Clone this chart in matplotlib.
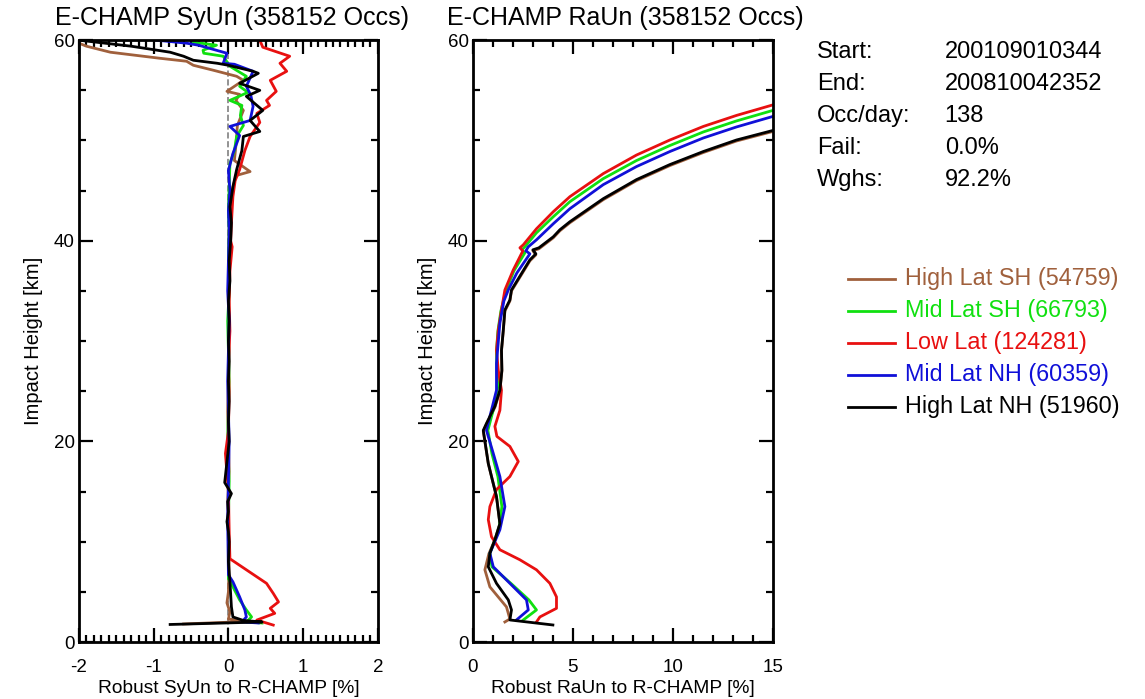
import matplotlib
matplotlib.use("Agg")
import matplotlib.pyplot as plt
from matplotlib.lines import Line2D
from matplotlib.ticker import MultipleLocator

plt.rcParams['font.family'] = ['Liberation Sans', 'DejaVu Sans']
plt.rcParams['axes.unicode_minus'] = False

# series names, colours and counts
names = ["High Lat SH", "Mid Lat SH", "Low Lat", "Mid Lat NH", "High Lat NH"]
counts = [54759, 66793, 124281, 60359, 51960]
colors = ["#a0603c", "#10e010", "#e81010", "#1010d8", "#000000"]

# --- SyUn (left panel): values [%] and impact heights [km]
syun_hsh = [-2.0, -1.9, -1.58, -0.92, -0.56, -0.47, -0.2, 0.11, 0.2, -0.02, 0.15, 0.1, 0.2, 0.12,
            0.1, 0.08, 0.29, 0.1, 0.05, 0.02, 0.01, 0.0, 0.01, 0.0, 0.01, 0.0, -0.01, 0.0, 0.01,
            -0.01, 0.0, 0.01, 0.0, -0.02, 0.02, 0.0, 0.25, -0.6]
syun_hsh_z = [59.7, 59.4, 58.8, 58.2, 57.9, 57.5, 57.0, 56.4, 56.0, 54.9, 54.6, 54.0, 53.0, 51.5,
              49.5, 48.0, 46.9, 46.5, 45.0, 43.0, 41.0, 38.0, 35.0, 32.0, 29.0, 26.0, 23.0, 20.0, 17.0,
              14.0, 11.0, 8.0, 5.0, 3.9, 3.0, 2.3, 2.05, 1.8]

syun_msh = [-0.47, -0.16, -0.34, -0.33, -0.07, 0.02, 0.24, 0.15, 0.26, 0.02, 0.18, 0.16, 0.2, 0.11,
            0.08, 0.02, 0.01, 0.0, 0.01, 0.0, 0.01, -0.01, 0.0, 0.01, 0.0, -0.01, 0.01, 0.0, 0.0,
            0.06, 0.15, 0.24, 0.31, 0.24, 0.45]
syun_msh_z = [59.8, 59.5, 59.0, 58.7, 58.4, 57.4, 56.4, 55.4, 54.8, 54.0, 53.5, 52.5, 51.5, 50.4,
              49.0, 47.7, 45.4, 43.0, 41.0, 38.0, 35.0, 32.0, 29.0, 26.0, 23.0, 20.0, 16.0, 12.0, 6.35,
              5.5, 4.2, 3.2, 2.5, 2.0, 1.9]

syun_low = [0.42, 0.46, 0.82, 0.69, 0.78, 0.56, 0.64, 0.51, 0.55, 0.38, 0.42, 0.29, 0.22, 0.15,
            0.09, 0.06, 0.04, 0.03, 0.05, 0.02, 0.01, 0.02, 0.0, 0.01, 0.0, -0.04, -0.03, 0.0, 0.01,
            0.02, 0.24, 0.51, 0.6, 0.67, 0.56, 0.62, 0.38, 0.6]
syun_low_z = [60.0, 59.3, 58.4, 57.7, 56.9, 56.0, 54.9, 54.0, 53.5, 52.7, 51.8, 50.4, 49.0, 47.1,
              46.0, 44.4, 41.8, 40.0, 39.4, 37.0, 34.0, 31.0, 28.0, 25.0, 21.0, 18.8, 17.8, 15.0, 11.0,
              8.3, 7.2, 5.85, 4.85, 4.0, 3.36, 2.86, 2.19, 1.69]

syun_mnh = [-0.96, -0.56, -0.4, -0.02, -0.07, 0.08, 0.33, 0.24, 0.3, 0.33, 0.29, 0.02, 0.15, 0.06,
            0.0, 0.02, 0.0, 0.01, 0.0, -0.01, 0.01, 0.0, -0.01, 0.0, 0.01, 0.0, -0.01, 0.0,
            0.06, 0.15, 0.22, 0.24, 0.18, 0.4]
syun_mnh_z = [60.0, 59.7, 59.5, 58.7, 57.7, 57.6, 56.9, 55.4, 54.5, 53.4, 52.0, 51.4, 50.5, 48.7,
              47.0, 45.0, 43.0, 41.0, 38.0, 35.0, 32.0, 29.0, 26.0, 23.0, 20.0, 16.0, 12.0, 6.7,
              6.0, 4.5, 3.2, 2.5, 2.0, 1.9]

syun_hnh = [-2.0, -1.3, -0.78, -0.6, -0.47, -0.15, 0.0, 0.33, 0.4, 0.15, 0.42, 0.24, 0.46, 0.29,
            0.42, 0.2, 0.18, 0.11, 0.06, 0.02, 0.04, 0.03, 0.01, 0.02, 0.0, 0.01, 0.0, 0.01, 0.0,
            0.01, 0.0, 0.01, -0.05, 0.04, -0.01, 0.0, -0.02, 0.0, 0.01, 0.0, 0.02, 0.04, 0.06, 0.2,
            0.45, -0.78]
syun_hnh_z = [60.0, 59.4, 58.8, 58.4, 58.0, 57.7, 57.5, 56.9, 56.7, 55.7, 55.0, 54.4, 53.0, 52.0,
              50.9, 50.4, 49.0, 47.1, 45.4, 43.4, 41.8, 40.0, 38.0, 36.0, 34.0, 32.0, 30.0, 28.0, 26.0,
              24.0, 22.0, 20.0, 15.9, 14.8, 14.0, 13.0, 12.0, 11.0, 10.0, 8.0, 6.0, 3.5, 2.5, 2.15,
              2.0, 1.75]

# --- RaUn (right panel): values [%] and impact heights [km]
raun_hsh = [15.0, 13.18, 11.52, 9.85, 8.18, 6.52, 4.85, 4.35, 4.02, 3.3, 3.0, 3.15, 2.85, 1.93,
            1.85, 1.6, 1.52, 1.43, 1.45, 1.35, 1.1, 0.68, 0.52, 0.77, 1.18, 1.35, 1.1, 0.8, 0.6,
            0.85, 1.68, 1.85, 1.6]
raun_hsh_z = [50.9, 49.95, 48.8, 47.5, 46.0, 44.1, 41.8, 41.0, 40.3, 39.2, 39.0, 38.6, 38.0, 35.0,
              34.0, 33.0, 31.0, 29.0, 27.0, 25.0, 23.4, 21.7, 21.0, 17.8, 14.5, 11.8, 10.2, 8.8, 7.2,
              5.5, 3.5, 2.3, 2.0]

raun_msh = [15.0, 13.18, 11.52, 9.85, 8.18, 6.52, 4.85, 4.02, 3.18, 2.6, 2.45, 2.6, 2.05, 1.65,
            1.4, 1.25, 1.18, 1.2, 1.25, 1.0, 0.75, 0.95, 1.25, 1.45, 1.3, 0.85, 0.95, 1.9, 2.8, 3.18,
            2.52]
raun_msh_z = [53.0, 51.95, 50.85, 49.5, 48.0, 46.2, 43.9, 42.4, 40.8, 39.4, 39.1, 38.8, 37.0, 35.0,
              33.0, 31.0, 29.0, 27.0, 25.5, 23.0, 21.1, 18.8, 16.5, 13.5, 11.2, 8.85, 7.5, 5.85, 4.2,
              3.2, 2.2]

raun_low = [15.0, 13.18, 11.52, 9.85, 8.18, 6.52, 4.85, 4.02, 3.18, 2.52, 2.35, 2.5, 2.02, 1.6,
            1.43, 1.27, 1.18, 1.27, 1.43, 1.35, 1.1, 1.2, 1.85, 2.27, 1.85, 1.18, 0.85, 0.77, 0.93,
            1.35, 2.35, 3.18, 3.85, 4.18, 4.18, 3.35, 3.18]
raun_low_z = [53.55, 52.5, 51.4, 50.05, 48.55, 46.7, 44.4, 42.9, 41.2, 39.6, 39.3, 39.0, 37.1, 35.1,
              33.1, 31.1, 29.1, 27.1, 25.1, 23.1, 21.5, 20.5, 19.5, 18.0, 16.5, 15.2, 13.5, 12.2,
              10.5, 9.2, 8.2, 7.2, 5.85, 4.5, 3.36, 2.5, 2.0]

raun_mnh = [15.0, 13.18, 11.52, 9.85, 8.18, 6.52, 4.85, 4.02, 3.18, 2.77, 2.65, 2.85, 2.2, 1.77,
            1.55, 1.35, 1.18, 1.18, 0.85, 0.68, 1.02, 1.35, 1.6, 1.35, 0.85, 1.02, 1.85, 2.68, 2.77,
            2.18]
raun_mnh_z = [52.4, 51.35, 50.25, 48.9, 47.4, 45.6, 43.2, 41.7, 40.1, 39.4, 39.0, 38.7, 36.8, 35.1,
              34.0, 31.8, 27.8, 25.1, 22.5, 21.1, 18.8, 16.5, 13.5, 11.2, 8.85, 7.5, 5.85, 4.2, 3.2,
              2.2]

raun_hnh = [15.0, 13.18, 11.52, 9.85, 8.18, 6.52, 4.85, 4.35, 4.02, 3.3, 3.0, 3.15, 2.85, 1.93,
            1.85, 1.6, 1.52, 1.43, 1.45, 1.35, 1.1, 0.68, 0.52, 0.77, 1.18, 1.35, 1.1, 0.85, 0.77,
            1.18, 1.77, 1.93, 1.85, 4.0]
raun_hnh_z = [51.0, 50.05, 48.9, 47.6, 46.1, 44.2, 41.9, 41.1, 40.4, 39.3, 39.1, 38.7, 38.1, 35.1,
              34.1, 33.1, 31.1, 29.1, 27.1, 25.1, 23.5, 21.8, 21.1, 17.8, 14.5, 11.8, 10.2, 8.85, 7.5,
              5.85, 4.2, 3.2, 2.2, 1.7]

syun = [(syun_hsh, syun_hsh_z), (syun_msh, syun_msh_z), (syun_low, syun_low_z),
        (syun_mnh, syun_mnh_z), (syun_hnh, syun_hnh_z)]
raun = [(raun_hsh, raun_hsh_z), (raun_msh, raun_msh_z), (raun_low, raun_low_z),
        (raun_mnh, raun_mnh_z), (raun_hnh, raun_hnh_z)]

info_keys = ["Start:", "End:", "Occ/day:", "Fail:", "Wghs:"]
info_vals = ["200109010344", "200810042352", "138", "0.0%", "92.2%"]

fig = plt.figure(figsize=(11.45, 6.99), dpi=100)
ax1 = fig.add_axes([0.069, 0.0815, 0.261, 0.861])
ax2 = fig.add_axes([0.413, 0.0815, 0.262, 0.861])


def style(ax, major, minor):
    ax.set_ylim(0, 60)
    ax.yaxis.set_major_locator(MultipleLocator(20))
    ax.yaxis.set_minor_locator(MultipleLocator(5))
    ax.xaxis.set_major_locator(MultipleLocator(major))
    ax.xaxis.set_minor_locator(MultipleLocator(minor))
    ax.tick_params(which='both', direction='in', top=True, right=True, width=1.6,
                   labelsize=13.5)
    ax.tick_params(axis='x', pad=12)
    ax.tick_params(axis='y', pad=3)
    ax.tick_params(which='major', length=10)
    ax.tick_params(which='minor', length=5)
    for s in ax.spines.values():
        s.set_linewidth(2)
    ax.set_ylabel("Impact Height [km]", fontsize=14.5, labelpad=8)


ax1.axvline(0, color='gray', ls='--', lw=1.2, zorder=0)
for (x, z), c in zip(syun, colors):
    ax1.plot(x, z, color=c, lw=2)
ax1.set_xlim(-2, 2)
style(ax1, 1, 0.1)
ax1.set_xlabel("Robust SyUn to R-CHAMP [%]", fontsize=13.8, labelpad=3)
ax1.set_title("E-CHAMP SyUn (358152 Occs)", fontsize=18, loc='left', x=-0.08, pad=11)

for (x, z), c in zip(raun, colors):
    ax2.plot(x, z, color=c, lw=2)
ax2.set_xlim(0, 15)
style(ax2, 5, 1)
ax2.set_xlabel("Robust RaUn to R-CHAMP [%]", fontsize=13.8, labelpad=3)
ax2.set_title("E-CHAMP RaUn (358152 Occs)", fontsize=18, loc='left', x=-0.087, pad=11)

# info block
for i, (k, v) in enumerate(zip(info_keys, info_vals)):
    y = 0.925 - i * 0.0458
    fig.text(0.7135, y, k, fontsize=17, va='center')
    fig.text(0.825, y, v, fontsize=17, va='center')

# legend
for i, (n, cnt, c) in enumerate(zip(names, counts, colors)):
    y = 0.601 - i * 0.0458
    fig.add_artist(Line2D([0.7406, 0.7817], [y, y], color=c, lw=2, transform=fig.transFigure))
    fig.text(0.790, y, f"{n} ({cnt})", color=c, fontsize=16.8, va='center')

fig.savefig("out.png", dpi=100)
